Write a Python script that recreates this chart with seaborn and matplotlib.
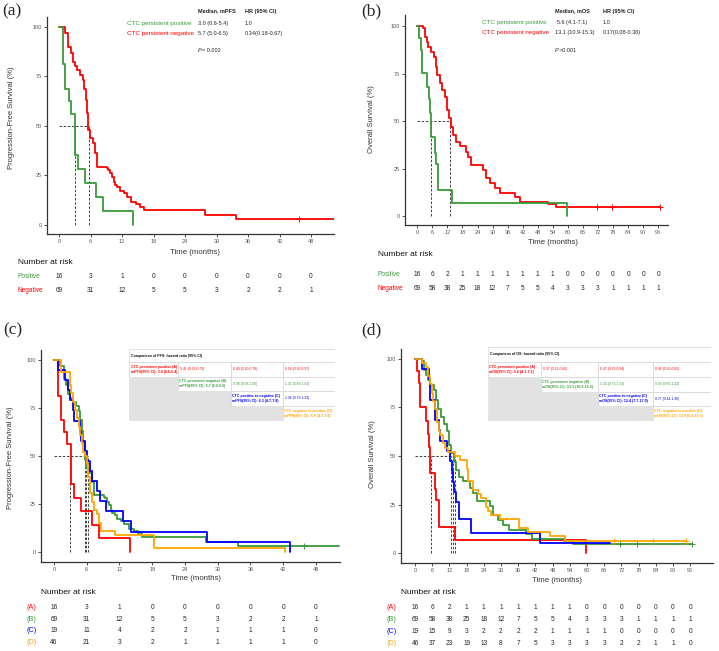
import matplotlib
matplotlib.use('Agg')
import matplotlib.pyplot as plt
import matplotlib.transforms as mtransforms
from matplotlib.patches import Rectangle
import seaborn as sns
import pandas as pd
import numpy as np

sns.set_style('white')
plt.rcParams['font.family'] = ['Liberation Sans', 'DejaVu Sans']

W, H = 719, 651
RED, GREEN, BLUE, ORANGE = '#FF0000', '#3A9A3A', '#0000FF', '#FFA500'

# ---- PFS curves (time in months, % progression-free) ----
# A: CTC persistent positive, B: persistent negative, C: positive->negative, D: negative->positive
pfs_a_t = [0, 0.8, 1.2, 1.9, 2.3, 3.1, 3.6, 4.9, 7.0, 8.3, 14.0]
pfs_a_s = [100, 81.3, 68.8, 62.5, 56.3, 35.4, 28.1, 21.1, 14.1, 7.0, 0]
pfs_b_t = [0, 1.1, 1.8, 2.2, 2.6, 3.0, 3.5, 4.0, 4.5, 4.8, 5.1, 5.4, 5.6, 5.9, 6.4, 6.9, 7.3,
           9.1, 9.4, 9.7, 10.0, 10.4, 10.7, 11.1, 11.6, 12.3, 12.9, 13.7, 14.7, 15.4, 16.2,
           27.8, 33.8, 52.3]
pfs_b_s = [100, 96.8, 90.1, 87.0, 82.5, 80.3, 78.3, 75.8, 73.2, 68.5, 63.1, 56.4, 48.0, 43.8,
           41.2, 36.2, 29.5, 28.6, 27.8, 26.1, 24.4, 21.9, 20.2, 19.0, 17.3, 16.0, 14.3, 11.8,
           10.6, 9.3, 7.6, 5.1, 2.9, 2.9]
pfs_b_cens = [45.8]
pfs_c_t = [0, 0.8, 2.0, 2.6, 3.0, 3.4, 3.6, 4.8, 5.0, 5.7, 6.0, 6.6, 7.0, 7.8, 8.4, 9.6, 12.6,
           14.2, 28.0, 43.3]
pfs_c_s = [100, 94.7, 89.5, 84.2, 78.9, 73.7, 68.4, 63.2, 57.9, 52.6, 47.4, 42.1, 36.8, 31.6,
           26.3, 21.1, 15.8, 10.5, 5.3, 0]
pfs_d_t = [0, 1.2, 2.9, 3.2, 3.5, 3.9, 4.2, 4.5, 4.8, 5.1, 5.4, 5.7, 6.0, 6.3, 6.6, 7.0, 7.3,
           7.8, 8.3, 8.7, 11.2, 18.3, 42.3]
pfs_d_s = [100, 93.5, 87.0, 82.6, 78.3, 73.9, 69.6, 65.2, 60.9, 56.5, 52.2, 50.0, 45.7, 39.1,
           30.4, 26.1, 21.7, 19.6, 15.2, 10.9, 8.7, 2.2, 0]

# ---- OS curves ----
os_a_t = [0, 0.8, 1.3, 1.9, 3.7, 4.6, 5.0, 5.4, 7.0, 7.4, 8.3, 13.9, 59.8]
os_a_s = [100, 93.5, 87.4, 75.4, 68.0, 61.4, 54.4, 41.4, 33.0, 27.4, 13.7, 6.7, 0]
os_b_t = [0, 2.4, 3.1, 3.7, 4.4, 5.3, 6.6, 7.4, 7.9, 9.0, 10.0, 11.0, 11.9, 12.7, 13.6, 14.3,
          15.3, 16.9, 19.3, 20.2, 21.5, 26.2, 27.2, 28.8, 30.8, 32.8, 38.8, 40.8, 52.1, 55.1,
          96.6]
os_b_s = [100, 98.8, 94.4, 91.7, 89.1, 86.5, 83.8, 78.6, 74.2, 69.8, 66.3, 62.8, 55.8, 51.4,
          47.0, 42.6, 39.1, 37.0, 33.8, 31.2, 26.8, 24.2, 19.8, 17.2, 14.6, 11.9, 9.8, 7.5,
          6.1, 4.6, 4.6]
os_b_cens = [71.6, 77.6, 96.6]
os_c_t = [0, 2.3, 5.0, 5.2, 5.4, 7.0, 8.2, 8.7, 11.3, 12.2, 12.9, 13.4, 13.7, 14.3, 15.2,
          19.6, 43.6, 68.0]
os_c_s = [100, 94.7, 89.5, 84.2, 78.9, 68.4, 63.2, 57.9, 52.6, 47.4, 42.1, 36.8, 31.6, 26.3,
          17.4, 10.5, 5.3, 5.3]
os_d_t = [0, 2.3, 3.8, 4.6, 5.2, 5.8, 6.4, 7.0, 7.6, 8.2, 8.7, 9.9, 10.5, 11.6, 14.0, 15.7,
          18.2, 18.5, 20.1, 22.0, 23.2, 24.8, 25.6, 26.4, 29.7, 36.4, 39.6, 47.1, 52.4, 94.6]
os_d_s = [100, 97.8, 95.7, 91.3, 87.0, 82.6, 78.3, 73.9, 67.4, 63.0, 60.9, 56.5, 54.3, 52.2,
          50.0, 47.8, 43.5, 37.0, 32.6, 30.4, 28.3, 23.9, 21.7, 19.6, 17.4, 13.0, 10.9, 8.7,
          6.5, 6.5]
os_d_cens = [69.5, 83.2, 94.6]

pfs_medians = [3.0, 5.7, 6.3, 5.8]
os_medians = [5.6, 13.1, 12.4, 13.9]

pfs_ticks = list(range(0, 49, 6))
os_ticks = list(range(0, 97, 6))

# numbers at risk
pfs_risk = [[16, 3, 1, 0, 0, 0, 0, 0, 0],
            [69, 31, 12, 5, 5, 3, 2, 2, 1],
            [19, 11, 4, 2, 2, 1, 1, 1, 0],
            [46, 21, 3, 2, 1, 1, 1, 1, 0]]
os_risk = [[16, 6, 2, 1, 1, 1, 1, 1, 1, 1, 0, 0, 0, 0, 0, 0, 0],
           [69, 58, 38, 25, 18, 12, 7, 5, 5, 4, 3, 3, 3, 1, 1, 1, 1],
           [19, 15, 9, 3, 2, 2, 2, 2, 1, 1, 1, 1, 0, 0, 0, 0, 0],
           [46, 37, 23, 19, 13, 8, 7, 5, 3, 3, 3, 3, 2, 2, 1, 1, 0]]

# hazard ratio tables
group_names = ['CTC persistent positive (A)', 'CTC persistent negative (B)',
               'CTC positive to negative (C)', 'CTC negative to positive (D)']
pfs_med_txt = ['mPFS(95% CI): 3.0 (0.6-5.4)', 'mPFS(95% CI): 5.7 (5.0-6.5)',
               'mPFS(95% CI): 6.3 (4.7-7.8)', 'mPFS(95% CI): 5.8 (4.7-7.0)']
os_med_txt = ['mOS(95% CI): 5.6 (4.1-7.1)', 'mOS(95% CI): 13.1 (10.9-15.3)',
              'mOS(95% CI): 12.4 (7.7-17.0)', 'mOS(95% CI): 13.9 (6.3-21.5)']
pfs_hr = [['0.41 (0.23-0.73)', '0.40 (0.20-0.78)', '0.54 (0.30-0.97)'],
          ['0.98 (0.58-1.60)', '1.31 (0.89-1.91)'],
          ['1.36 (0.79-2.33)'], []]
os_hr = [['0.37 (0.21-0.66)', '0.47 (0.23-0.94)', '0.36 (0.20-0.65)'],
         ['1.34 (0.73-2.13)', '0.96 (0.65-1.42)'],
         ['0.77 (0.44-1.36)'], []]

group_colors = [RED, GREEN, BLUE, ORANGE]

fig = plt.figure(figsize=(W / 100, H / 100), dpi=100)


def fx(x):
    return x / W


def fy(y):
    return 1 - y / H


def px_axes(l, t, r, b):
    return fig.add_axes([l / W, 1 - b / H, (r - l) / W, (b - t) / H])


def km(ax, t, s, color, cens=None):
    df = pd.DataFrame({'Time': t, 'Survival': s})
    sns.lineplot(data=df, x='Time', y='Survival', ax=ax, color=color, linewidth=1.3,
                 drawstyle='steps-post', estimator=None, sort=False)
    if cens:
        idx = np.searchsorted(t, cens, side='right') - 1
        sns.scatterplot(x=cens, y=np.asarray(s)[idx], ax=ax, marker='+', s=16,
                        color=color, linewidth=0.7, zorder=3)


def medians(ax, meds):
    ax.hlines(50, 0, max(meds), colors='#222222', linestyles=(0, (3, 2)), lw=0.6)
    ax.vlines(meds, 0, 50, colors='#222222', linestyles=(0, (3, 2)), lw=0.6)


def style(ax, xlim, ylim, xticks):
    ax.set_xlim(xlim)
    ax.set_ylim(ylim)
    ax.set_xticks(xticks)
    ax.set_yticks([0, 25, 50, 75, 100])
    ax.set_xlabel('')
    ax.set_ylabel('')
    sns.despine(ax=ax)
    for sp in ['left', 'bottom']:
        ax.spines[sp].set_color('#333333')
        ax.spines[sp].set_linewidth(0.9)
    ax.tick_params(length=2, width=0.6, color='#333333', labelsize=4, labelcolor='#555555',
                   pad=1.5, left=True, bottom=True)


def risk(ax, ticks, rows, labels, colors, label_x, ys, head_x, head_y, lab_fs):
    fig.text(fx(head_x), fy(head_y), 'Number at risk', fontsize=6, ha='left', va='center',
             color='#111111')
    trans = mtransforms.blended_transform_factory(ax.transData, fig.transFigure)
    for vals, lab, col, y in zip(rows, labels, colors, ys):
        fig.text(fx(label_x), fy(y), lab, color=col, fontsize=lab_fs, ha='left', va='center')
        for tk, v in zip(ticks, vals):
            ax.text(tk, fy(y), str(v), transform=trans, ha='center', va='center',
                    fontsize=4.7, color='#222222')


def hr_table(cols, rows, header, med_txt, hrs):
    l, r, t, b = cols[0], cols[-1], rows[0], rows[-1]
    tax = px_axes(l, t, r, b)
    tax.set_xlim(l, r)
    tax.set_ylim(b, t)
    tax.axis('off')
    line = '#d4d4d4'
    tax.add_patch(Rectangle((l, t), r - l, rows[1] - t, fc='white', ec=line, lw=0.5))
    tax.text(l + 2, (t + rows[1]) / 2, header, fontsize=2.6, fontweight='bold',
             ha='left', va='center', color='#111111')
    for i in range(4):
        for j in range(4):
            x0, x1 = cols[j], cols[j + 1]
            y0, y1 = rows[i + 1], rows[i + 2]
            if j < i:
                tax.add_patch(Rectangle((x0, y0), x1 - x0, y1 - y0, fc='#e2e2e2',
                                        ec='#e2e2e2', lw=0.5))
                continue
            tax.add_patch(Rectangle((x0, y0), x1 - x0, y1 - y0, fc='white', ec=line, lw=0.5))
            if j == i:
                tax.text(x0 + 1.5, (y0 + y1) / 2, group_names[i] + '\n' + med_txt[i],
                         fontsize=2.6, fontweight='bold', color=group_colors[i],
                         ha='left', va='center', linespacing=1.4)
            else:
                tax.text(x0 + 2, (y0 + y1) / 2, hrs[i][j - i - 1], fontsize=2.4,
                         color=group_colors[i], ha='left', va='center')


# ---------------- (a) PFS, two groups ----------------
ax_a = px_axes(47, 17, 334, 234)
medians(ax_a, pfs_medians[:2])
km(ax_a, pfs_b_t, pfs_b_s, RED, pfs_b_cens)
km(ax_a, pfs_a_t, pfs_a_s, GREEN)
style(ax_a, (-2.29, 52.38), (-4.55, 105.05), pfs_ticks)
fig.text(fx(12), fy(118), 'Progression-Free Survival (%)', rotation=90, fontsize=5.5,
         ha='center', va='center', color='#333333')
fig.text(fx(195), fy(253), 'Time (months)', fontsize=5.6, ha='center', va='center',
         color='#333333')
fig.text(fx(198), fy(11), 'Median, mPFS', fontsize=4, fontweight='bold', va='center')
fig.text(fx(245), fy(11), 'HR (95% CI)', fontsize=4, fontweight='bold', va='center')
fig.text(fx(127), fy(23.3), 'CTC persistent positive', fontsize=4.5, color=GREEN, va='center')
fig.text(fx(127), fy(33.3), 'CTC persistent negative', fontsize=4.5, color=RED, va='center')
fig.text(fx(198), fy(23.3), '3.0 (0.6-5.4)', fontsize=4, va='center')
fig.text(fx(245), fy(23.3), '1.0', fontsize=4, va='center')
fig.text(fx(198), fy(33.3), '5.7 (5.0-6.5)', fontsize=4, va='center')
fig.text(fx(245), fy(33.3), '0.34(0.18-0.67)', fontsize=4, va='center')
fig.text(fx(198), fy(51), 'P', fontsize=4, style='italic', va='center')
fig.text(fx(202.5), fy(51), '= 0.002', fontsize=4, va='center')
risk(ax_a, pfs_ticks, pfs_risk[:2], ['Positive', 'Negative'], [GREEN, RED], 18,
     [276.7, 291], 18.3, 262.7, 4.7)
fig.text(fx(2), fy(11), '(a)', fontsize=12.5, family='Liberation Serif', va='center')

# ---------------- (b) OS, two groups ----------------
ax_b = px_axes(405, 15, 668, 225)
medians(ax_b, os_medians[:2])
km(ax_b, os_b_t, os_b_s, RED, os_b_cens)
km(ax_b, os_a_t, os_a_s, GREEN)
style(ax_b, (-4.9, 99.9), (-4.7, 105.8), os_ticks)
fig.text(fx(371.7), fy(119), 'Overall Survival (%)', rotation=90, fontsize=5.5,
         ha='center', va='center', color='#333333')
fig.text(fx(553), fy(242.7), 'Time (months)', fontsize=5.6, ha='center', va='center',
         color='#333333')
fig.text(fx(555), fy(11), 'Median, mOS', fontsize=4, fontweight='bold', va='center')
fig.text(fx(602.7), fy(11), 'HR (95% CI)', fontsize=4, fontweight='bold', va='center')
fig.text(fx(481.7), fy(22.7), 'CTC persistent positive', fontsize=4.5, color=GREEN,
         va='center')
fig.text(fx(481.7), fy(32.7), 'CTC persistent negative', fontsize=4.5, color=RED,
         va='center')
fig.text(fx(556.7), fy(22.7), '5.6 (4.1-7.1)', fontsize=4, va='center')
fig.text(fx(602.7), fy(22.7), '1.0', fontsize=4, va='center')
fig.text(fx(555), fy(32.7), '13.1 (10.9-15.3)', fontsize=4, va='center')
fig.text(fx(602.7), fy(32.7), '0.17(0.08-0.36)', fontsize=4, va='center')
fig.text(fx(555), fy(50), 'P', fontsize=4, style='italic', va='center')
fig.text(fx(559.5), fy(50), '<0.001', fontsize=4, va='center')
risk(ax_b, os_ticks, os_risk[:2], ['Positive', 'Negative'], [GREEN, RED], 377.3,
     [274, 288.7], 378.3, 255, 4.7)
fig.text(fx(361.7), fy(11), '(b)', fontsize=12.5, family='Liberation Serif', va='center')

# ---------------- (c) PFS, four groups ----------------
ax_c = px_axes(41, 350, 340, 562.3)
medians(ax_c, pfs_medians)
km(ax_c, pfs_a_t, pfs_a_s, RED)
km(ax_c, pfs_b_t, pfs_b_s, GREEN, pfs_b_cens)
km(ax_c, pfs_c_t, pfs_c_s, BLUE)
km(ax_c, pfs_d_t, pfs_d_s, ORANGE)
style(ax_c, (-2.38, 52.4), (-5.5, 105.2), pfs_ticks)
fig.text(fx(11), fy(458), 'Progression-Free Survival (%)', rotation=90, fontsize=5.5,
         ha='center', va='center', color='#333333')
fig.text(fx(195.5), fy(579), 'Time (months)', fontsize=5.6, ha='center', va='center',
         color='#333333')
risk(ax_c, pfs_ticks, pfs_risk, ['(A)', '(B)', '(C)', '(D)'], group_colors, 26.7,
     [607.7, 619.3, 631, 642.3], 41, 592.3, 5.2)
hr_table([129.3, 177.7, 230.7, 282.7, 335], [349.3, 361.7, 376.7, 390.7, 406, 420.7],
         'Comparison of PFS: hazard ratio (95% CI)', pfs_med_txt, pfs_hr)
fig.text(fx(3), fy(330), '(c)', fontsize=12.5, family='Liberation Serif', va='center')

# ---------------- (d) OS, four groups ----------------
ax_d = px_axes(400.7, 349.3, 713, 563.3)
medians(ax_d, os_medians)
km(ax_d, os_a_t, os_a_s, RED)
km(ax_d, os_b_t, os_b_s, GREEN, os_b_cens)
km(ax_d, os_c_t, os_c_s, BLUE)
km(ax_d, os_d_t, os_d_s, ORANGE, os_d_cens)
style(ax_d, (-5.0, 104), (-5.1, 104.8), os_ticks)
fig.text(fx(372.7), fy(454), 'Overall Survival (%)', rotation=90, fontsize=5.5,
         ha='center', va='center', color='#333333')
fig.text(fx(557), fy(581), 'Time (months)', fontsize=5.6, ha='center', va='center',
         color='#333333')
risk(ax_d, os_ticks, os_risk, ['(A)', '(B)', '(C)', '(D)'], group_colors, 386.7,
     [607.3, 619.3, 631.3, 643.3], 400.7, 592.3, 5.2)
hr_table([487.7, 541, 597.7, 652.7, 710.7], [347.3, 361.7, 377.3, 391.7, 406, 420.7],
         'Comparison of OS: hazard ratio (95% CI)', os_med_txt, os_hr)
fig.text(fx(361.7), fy(330), '(d)', fontsize=12.5, family='Liberation Serif', va='center')

fig.savefig('out.png', dpi=100)
